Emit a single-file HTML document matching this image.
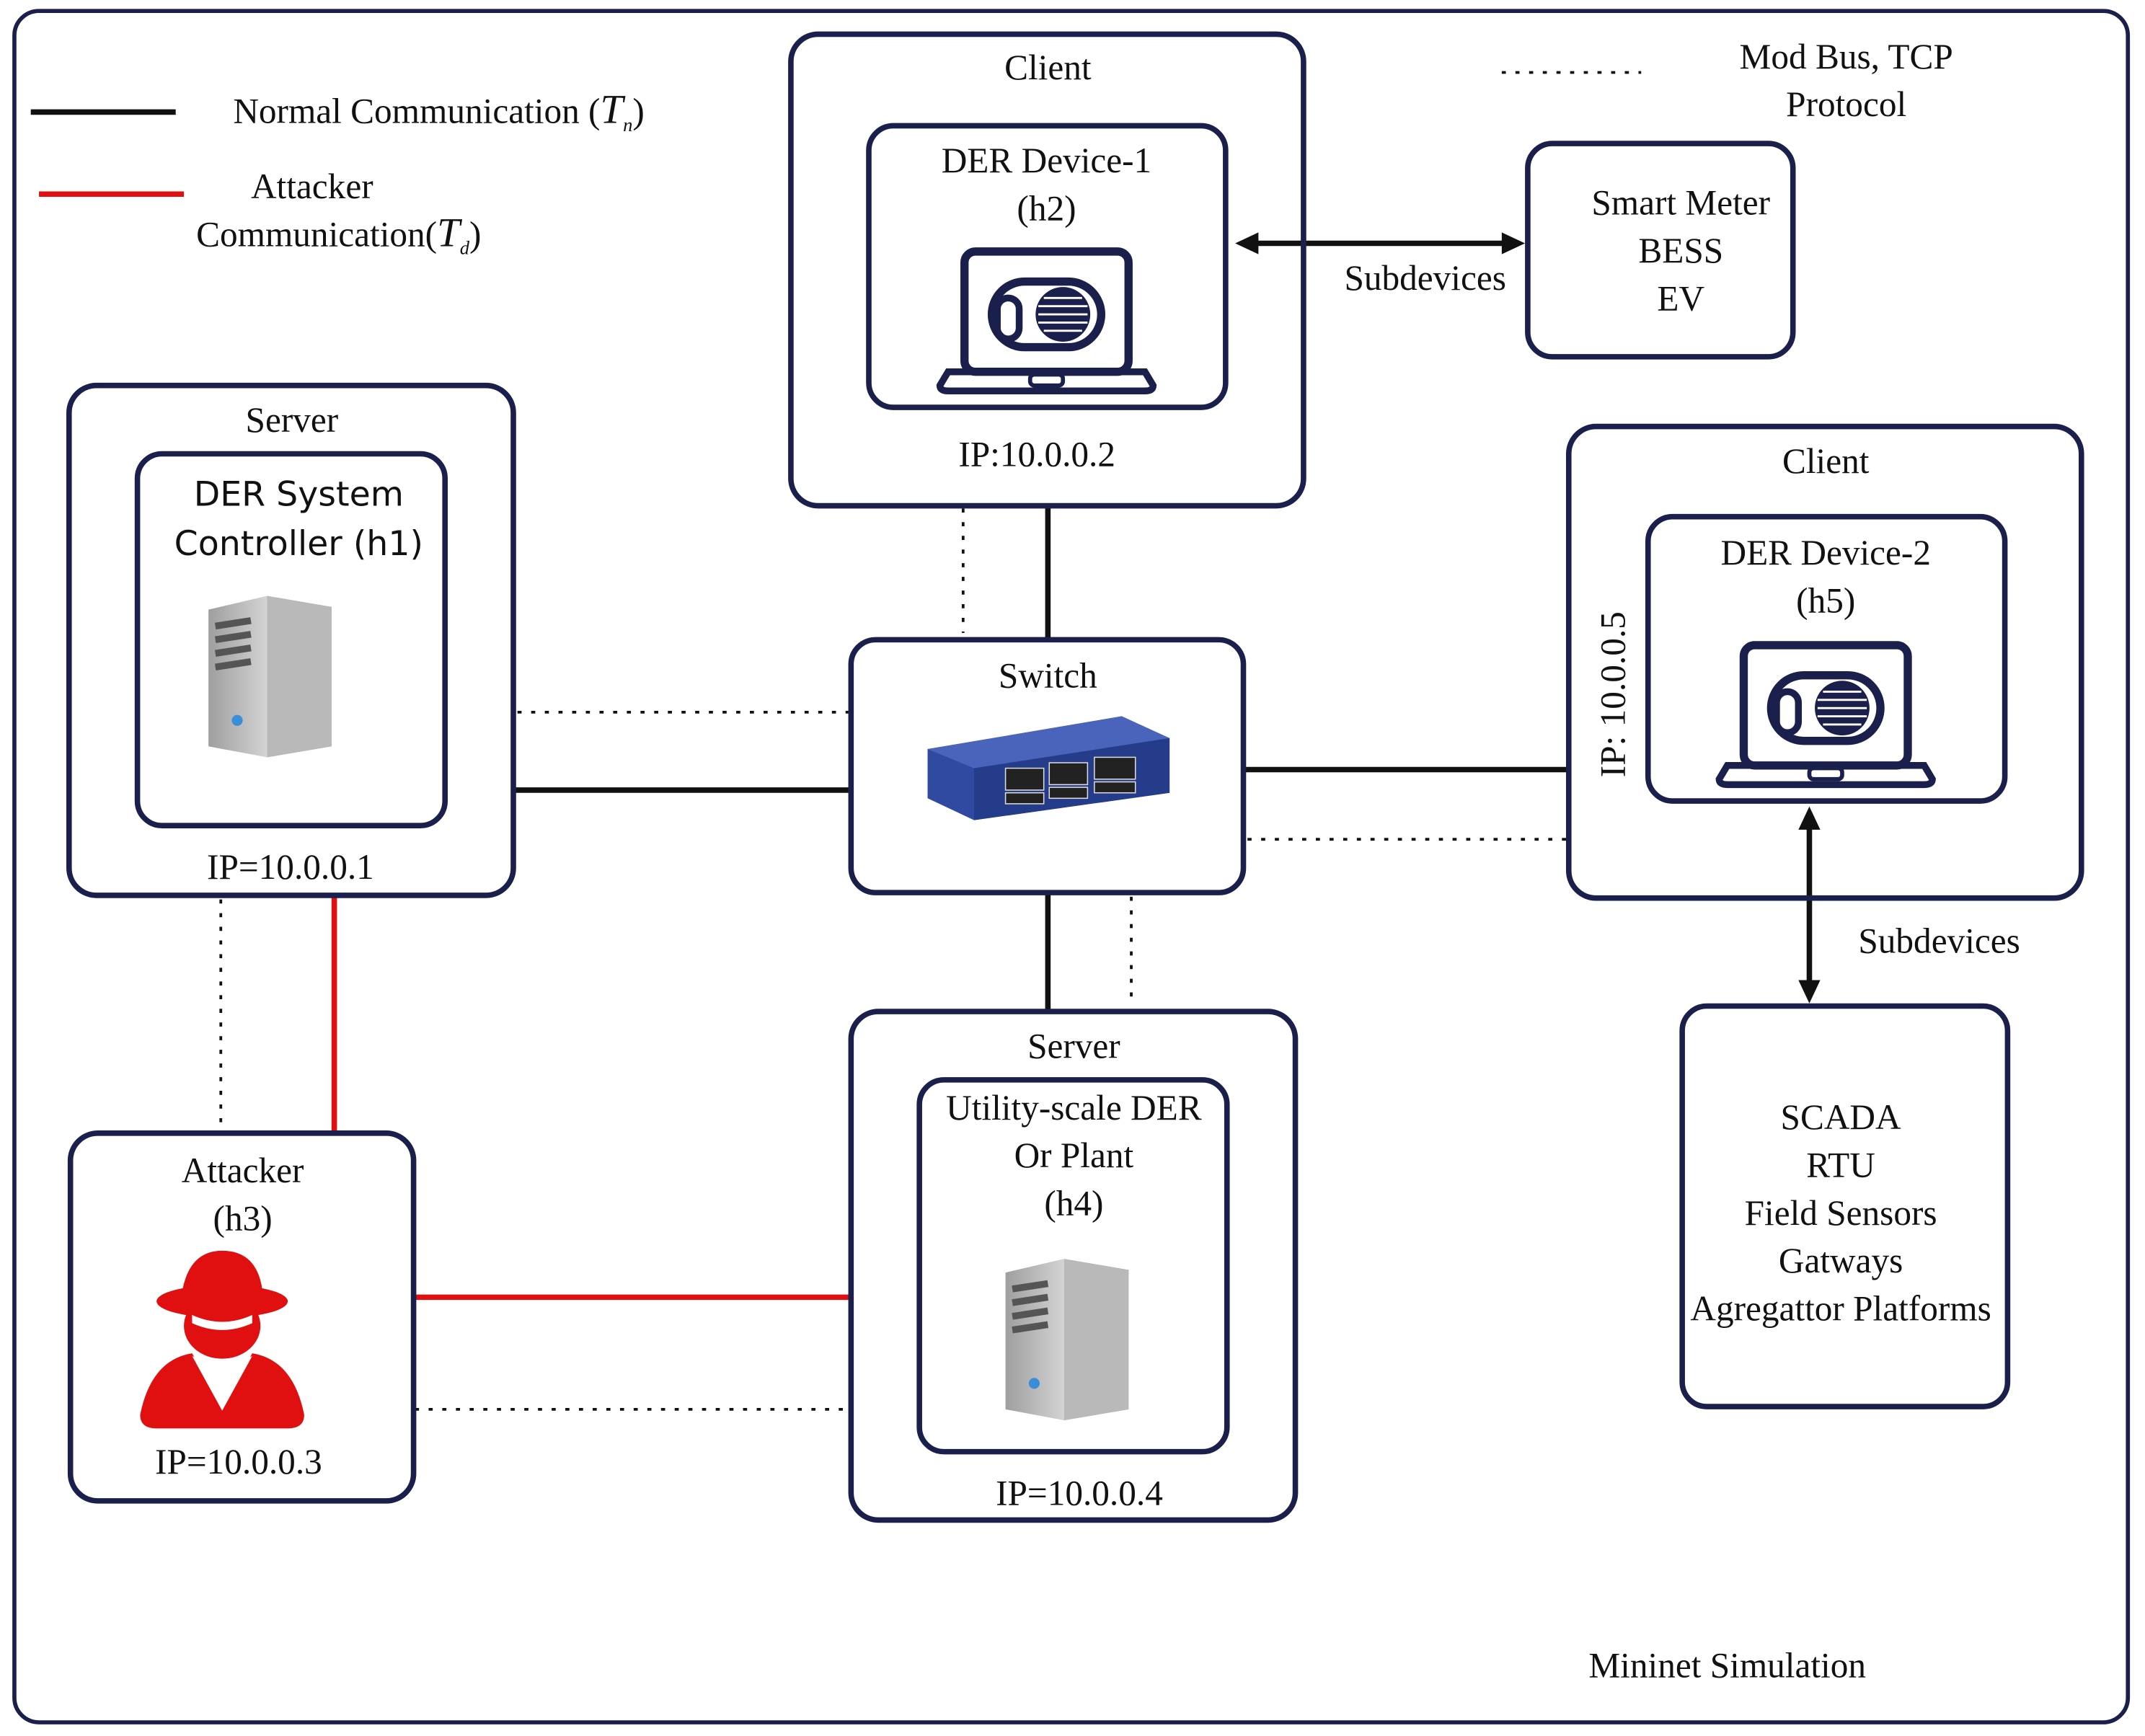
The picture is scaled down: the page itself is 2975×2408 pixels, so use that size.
<!DOCTYPE html>
<html><head><meta charset="utf-8"><style>html,body{margin:0;padding:0;background:#fff}svg{display:block}</style></head><body>
<svg width="2975" height="2408" viewBox="0 0 1568 1270" xmlns="http://www.w3.org/2000/svg" font-family="Liberation Serif, serif" font-size="26" fill="#111">
<defs>
<linearGradient id="sf" x1="0" x2="1"><stop offset="0" stop-color="#9a9a9a"/><stop offset="1" stop-color="#d8d8d8"/></linearGradient>
<linearGradient id="ss" x1="0" x2="1"><stop offset="0" stop-color="#c8c8c8"/><stop offset="1" stop-color="#8a8a8a"/></linearGradient>
<g id="laptop">
<rect x="-60" y="-46" width="120" height="88" rx="8" fill="none" stroke="#1b1f4b" stroke-width="6"/>
<path d="M-72 42 L72 42 L78 52 Q78 56 72 56 L-72 56 Q-78 56 -78 52 Z" fill="none" stroke="#1b1f4b" stroke-width="5"/>
<rect x="-12" y="44" width="24" height="8" rx="3" fill="none" stroke="#1b1f4b" stroke-width="3"/>
<rect x="-40" y="-24" width="80" height="48" rx="24" fill="none" stroke="#1b1f4b" stroke-width="6"/>
<rect x="-36" y="-12" width="16" height="30" rx="8" fill="none" stroke="#1b1f4b" stroke-width="5"/>
<circle cx="12" cy="0" r="20" fill="#1b1f4b"/>
<path d="M-6 -6 H30 M-6 0 H30 M-6 6 H30 M-2 -12 H26 M-2 12 H26" stroke="#fff" stroke-width="1.5"/>
</g>
<g id="tower">
<path d="M-45 -48 L-2 -58 L45 -50 L45 52 L-2 60 L-45 52 Z" fill="url(#ss)"/>
<path d="M-45 -48 L-2 -58 L-2 60 L-45 52 Z" fill="url(#sf)" opacity="0.9"/>
<path d="M-2 -58 L45 -50 L45 52 L-2 60 Z" fill="#b9b9b9"/>
<path d="M-40 -36 L-14 -40 M-40 -26 L-14 -30 M-40 -16 L-14 -20 M-40 -6 L-14 -10" stroke="#555" stroke-width="5"/>
<circle cx="-24" cy="33" r="4" fill="#3a8ed8"/>
</g>
</defs>
<rect x="10" y="8" width="1546" height="1252" rx="18" fill="none" stroke="#1b1f4b" stroke-width="3"/>
<!-- legend -->
<line x1="22" y1="82" x2="128" y2="82" stroke="#111" stroke-width="4"/>
<text x="170" y="90">Normal Communication (<tspan font-style="italic" font-size="30">T</tspan><tspan font-size="14" font-style="italic" dy="6">n</tspan><tspan dy="-6">)</tspan></text>
<line x1="28" y1="142" x2="134" y2="142" stroke="#e01010" stroke-width="4"/>
<text x="183" y="145">Attacker</text>
<text x="143" y="180">Communication(<tspan font-style="italic" font-size="30">T</tspan><tspan font-size="14" font-style="italic" dy="6">d</tspan><tspan dy="-6">)</tspan></text>
<line x1="1098" y1="53" x2="1200" y2="53" stroke="#111" stroke-width="2" stroke-dasharray="3,7"/>
<text x="1350" y="50" text-anchor="middle">Mod Bus, TCP</text>
<text x="1350" y="85" text-anchor="middle">Protocol</text>
<!-- connectors -->
<g stroke="#111" stroke-width="4">
<line x1="766" y1="370" x2="766" y2="468"/>
<line x1="375" y1="578" x2="622" y2="578"/>
<line x1="909" y1="563" x2="1147" y2="563"/>
<line x1="766" y1="653" x2="766" y2="740"/>
</g>
<g stroke="#111" stroke-width="2" stroke-dasharray="3,7">
<line x1="704" y1="372" x2="704" y2="463"/>
<line x1="378" y1="521" x2="620" y2="521"/>
<line x1="912" y1="614" x2="1145" y2="614"/>
<line x1="827" y1="656" x2="827" y2="735"/>
<line x1="161" y1="658" x2="161" y2="828"/>
<line x1="303" y1="1031" x2="620" y2="1031"/>
</g>
<g stroke="#e01010" stroke-width="4">
<line x1="244" y1="655" x2="244" y2="829"/>
<line x1="302" y1="949" x2="622" y2="949"/>
</g>
<!-- arrows -->
<line x1="918" y1="178" x2="1100" y2="178" stroke="#111" stroke-width="4"/>
<path d="M903 178 L920 170 L920 186 Z M1115 178 L1098 170 L1098 186 Z" fill="#111"/>
<text x="1042" y="212" text-anchor="middle">Subdevices</text>
<line x1="1323" y1="604" x2="1323" y2="720" stroke="#111" stroke-width="4"/>
<path d="M1323 590 L1315 607 L1331 607 Z M1323 734 L1315 717 L1331 717 Z" fill="#111"/>
<text x="1418" y="697" text-anchor="middle">Subdevices</text>
<!-- boxes -->
<g fill="none" stroke="#1b1f4b" stroke-width="4">
<rect x="578" y="25" width="375" height="345" rx="20"/>
<rect x="635" y="92" width="261" height="206" rx="18"/>
<rect x="1117" y="105" width="194" height="156" rx="18"/>
<rect x="50" y="282" width="325" height="373" rx="20"/>
<rect x="100" y="332" width="225" height="272" rx="18"/>
<rect x="622" y="468" width="287" height="185" rx="18"/>
<rect x="1147" y="312" width="375" height="345" rx="20"/>
<rect x="1205" y="378" width="261" height="208" rx="18"/>
<rect x="1230" y="736" width="238" height="293" rx="18"/>
<rect x="622" y="740" width="325" height="372" rx="20"/>
<rect x="672" y="790" width="225" height="272" rx="18"/>
<rect x="51" y="829" width="251" height="269" rx="20"/>
</g>
<!-- texts -->
<g text-anchor="middle">
<text x="766" y="58">Client</text>
<text x="765" y="126">DER Device-1</text>
<text x="765" y="161">(h2)</text>
<text x="758" y="341">IP:10.0.0.2</text>
<text x="1229" y="157">Smart Meter</text>
<text x="1229" y="192">BESS</text>
<text x="1229" y="227">EV</text>
<text x="213" y="316">Server</text>
<text x="218" y="370" font-family="DejaVu Sans, sans-serif" font-size="25">DER System</text>
<text x="218" y="406" font-family="DejaVu Sans, sans-serif" font-size="25">Controller  (h1)</text>
<text x="212" y="643">IP=10.0.0.1</text>
<text x="766" y="503">Switch</text>
<text x="1335" y="346">Client</text>
<text x="1335" y="413">DER Device-2</text>
<text x="1335" y="448">(h5)</text>
<text x="1346" y="826">SCADA</text>
<text x="1346" y="861">RTU</text>
<text x="1346" y="896">Field Sensors</text>
<text x="1346" y="931">Gatways</text>
<text x="1346" y="966">Agregattor Platforms</text>
<text x="785" y="774">Server</text>
<text x="785" y="819">Utility-scale DER</text>
<text x="785" y="854">Or Plant</text>
<text x="785" y="889">(h4)</text>
<text x="789" y="1101">IP=10.0.0.4</text>
<text x="177" y="865">Attacker</text>
<text x="177" y="900">(h3)</text>
<text x="174" y="1078">IP=10.0.0.3</text>
<text x="1263" y="1227">Mininet Simulation</text>
<text transform="translate(1188,508) rotate(-90)">IP: 10.0.0.5</text>
</g>
<!-- icons -->
<use href="#laptop" transform="translate(765,230)"/>
<use href="#laptop" transform="translate(1335,518)"/>
<use href="#tower" transform="translate(197,494)"/>
<use href="#tower" transform="translate(780,979)"/>
<!-- switch -->
<g>
<path d="M678 548 L820 524 L855 540 L855 580 L712 600 L678 584 Z" fill="#2f4aa0"/>
<path d="M678 548 L820 524 L855 540 L712 562 Z" fill="#4a64bb"/>
<path d="M712 562 L855 540 L855 580 L712 600 Z" fill="#253c8a"/>
<g fill="#222" stroke="#ddd" stroke-width="0.8">
<rect x="735" y="562" width="28" height="16"/><rect x="767" y="558" width="28" height="16"/><rect x="800" y="554" width="30" height="16"/>
<rect x="735" y="580" width="28" height="8"/><rect x="767" y="576" width="28" height="8"/><rect x="800" y="572" width="30" height="8"/>
</g>
</g>
<!-- hacker -->
<g fill="#e01010">
<ellipse cx="162" cy="952" rx="48" ry="12"/>
<path d="M132 950 Q136 915 162 915 Q190 915 192 950 Z"/>
<ellipse cx="162" cy="970" rx="28" ry="24"/>
<path d="M102 1035 Q110 995 140 990 L162 1030 L184 990 Q214 995 222 1035 Q222 1045 210 1045 L114 1045 Q102 1045 102 1035 Z"/>
</g>
<path d="M140 992 L162 1032 L184 992 L170 1000 L162 996 L154 1000 Z" fill="#fff"/>
<path d="M140 962 Q162 972 184 962 L184 968 Q162 978 140 968 Z" fill="#fff"/>
</svg>
</body></html>
